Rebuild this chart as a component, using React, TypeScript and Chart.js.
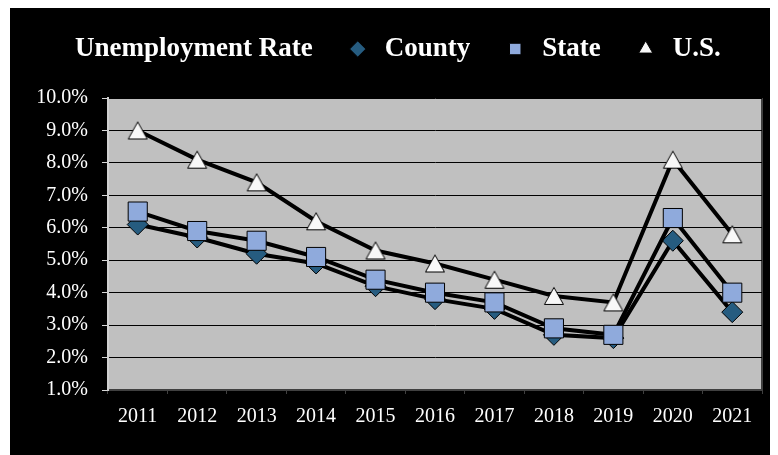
import React, { useEffect, useRef } from 'react';
import { Chart, registerables } from 'chart.js';

Chart.register(...registerables);

const YEARS = ['2011', '2012', '2013', '2014', '2015', '2016', '2017', '2018', '2019', '2020', '2021'];
const COUNTY = [6.1, 5.7, 5.2, 4.9, 4.2, 3.8, 3.5, 2.7, 2.6, 5.6, 3.4];
const STATE = [6.5, 5.9, 5.6, 5.1, 4.4, 4.0, 3.7, 2.9, 2.7, 6.3, 4.0];
const US = [9.0, 8.1, 7.4, 6.2, 5.3, 4.9, 4.4, 3.9, 3.7, 8.1, 5.8];
const SERIES_NAMES = ['County', 'State', 'U.S.'];
const CHART_TITLE = 'Unemployment Rate';
const Y_MIN = 1;
const Y_MAX = 10;
const Y_STEP = 1;

const FONT = "'Liberation Serif', 'Times New Roman', serif";

// Triangle marker centred on its bounding box (as the source chart draws it)
function makeTriangleMarker(): HTMLCanvasElement {
  const c = document.createElement('canvas');
  c.width = 22;
  c.height = 20;
  const ctx = c.getContext('2d') as CanvasRenderingContext2D;
  ctx.beginPath();
  ctx.moveTo(11, 1.5);
  ctx.lineTo(20.5, 18.5);
  ctx.lineTo(1.5, 18.5);
  ctx.closePath();
  ctx.fillStyle = '#F8F8F8';
  ctx.fill();
  ctx.strokeStyle = '#000';
  ctx.lineWidth = 1;
  ctx.stroke();
  return c;
}

const plotBg = {
  id: 'plotBg',
  beforeDraw(chart: any) {
    const { ctx, chartArea: a } = chart;
    ctx.save();
    ctx.fillStyle = '#C0C0C0';
    ctx.fillRect(a.left, a.top, a.right - a.left, a.bottom - a.top);
    ctx.strokeStyle = '#404040';
    ctx.lineWidth = 2;
    ctx.beginPath();
    ctx.moveTo(a.right, a.top);
    ctx.lineTo(a.right, a.bottom);
    ctx.stroke();
    ctx.restore();
  },
};

export default function App() {
  const ref = useRef<HTMLCanvasElement>(null);

  useEffect(() => {
    const tri = makeTriangleMarker();
    const chart = new Chart(ref.current as HTMLCanvasElement, {
      type: 'line',
      data: {
        labels: YEARS,
        datasets: [
          {
            label: SERIES_NAMES[0],
            data: COUNTY,
            borderColor: '#000',
            borderWidth: 4,
            pointStyle: 'rectRot',
            pointRadius: 10.5,
            pointHoverRadius: 10.5,
            pointBackgroundColor: '#265C80',
            pointBorderColor: '#000',
            pointBorderWidth: 1,
            order: 1,
          },
          {
            label: SERIES_NAMES[1],
            data: STATE,
            borderColor: '#000',
            borderWidth: 4,
            pointStyle: 'rect',
            pointRadius: 13.5,
            pointHoverRadius: 13.5,
            pointBackgroundColor: '#8FAADC',
            pointBorderColor: '#000',
            pointBorderWidth: 1,
            order: 0,
          },
          {
            label: SERIES_NAMES[2],
            data: US,
            borderColor: '#000',
            borderWidth: 4,
            pointStyle: tri,
            pointRadius: 11,
            pointHoverRadius: 11,
            pointBackgroundColor: '#F8F8F8',
            pointBorderColor: '#000',
            pointBorderWidth: 1,
            order: 2,
          },
        ],
      },
      options: {
        responsive: false,
        animation: false,
        events: [],
        layout: { padding: { left: -7, top: -4, right: 16, bottom: 0 } },
        plugins: {
          tooltip: { enabled: false },
          title: { display: false },
          legend: {
            display: true,
            position: 'top',
            align: 'start',
            onClick: () => {},
            labels: {
              color: '#fff',
              font: { family: FONT, size: 27, weight: 'bold' },
              usePointStyle: true,
              boxWidth: 27,
              boxHeight: 11.5,
              padding: 31.5,
              generateLabels: (c: any) => {
                const items = (Chart.defaults.plugins.legend.labels as any).generateLabels(c);
                items.sort((a: any, b: any) => a.datasetIndex - b.datasetIndex);
                items.forEach((it: any) => {
                  if (it.datasetIndex === 2) {
                    it.pointStyle = 'triangle';
                    it.fillStyle = '#F8F8F8';
                    it.strokeStyle = '#000';
                    it.lineWidth = 1;
                  }
                });
                return [
                  {
                    text: CHART_TITLE,
                    fillStyle: 'rgba(0,0,0,0)',
                    strokeStyle: 'rgba(0,0,0,0)',
                    lineWidth: 0,
                    pointStyle: 'circle',
                    hidden: false,
                    fontColor: '#fff',
                  },
                  ...items,
                ];
              },
            },
          },
        },
        scales: {
          x: {
            type: 'category',
            position: 'bottom',
            offset: true,
            afterFit: (s: any) => {
              s.height = 65;
            },
            grid: {
              offset: true,
              drawOnChartArea: false,
              drawTicks: true,
              tickLength: 4,
              tickColor: '#404040',
              color: '#404040',
            },
            border: { display: true, color: '#404040', width: 2 },
            ticks: {
              color: '#fff',
              padding: 11,
              maxRotation: 0,
              autoSkip: false,
              font: { family: FONT, size: 20 },
            },
          },
          x2: {
            type: 'category',
            position: 'top',
            display: true,
            afterFit: (s: any) => {
              s.height = 25.5;
            },
            grid: { display: false, drawTicks: false },
            border: { display: false },
            ticks: { display: false },
          },
          y: {
            type: 'linear',
            min: Y_MIN,
            max: Y_MAX,
            afterFit: (s: any) => {
              s.width = 105;
            },
            grid: {
              color: '#000',
              lineWidth: 1,
              tickLength: 6,
              tickColor: '#D8D8D8',
            },
            border: { display: true, color: '#D0D0D0', width: 2 },
            ticks: {
              stepSize: Y_STEP,
              color: '#fff',
              padding: 14,
              font: { family: FONT, size: 20 },
              callback: (v: any) => Number(v).toFixed(1) + '%',
            },
          },
        },
      },
      plugins: [plotBg],
    } as any);
    return () => chart.destroy();
  }, []);

  return (
    <div style={{ width: 768, height: 447, marginLeft: 2, background: '#000' }}>
      <canvas ref={ref} width={768} height={447} style={{ display: 'block' }} />
    </div>
  );
}
